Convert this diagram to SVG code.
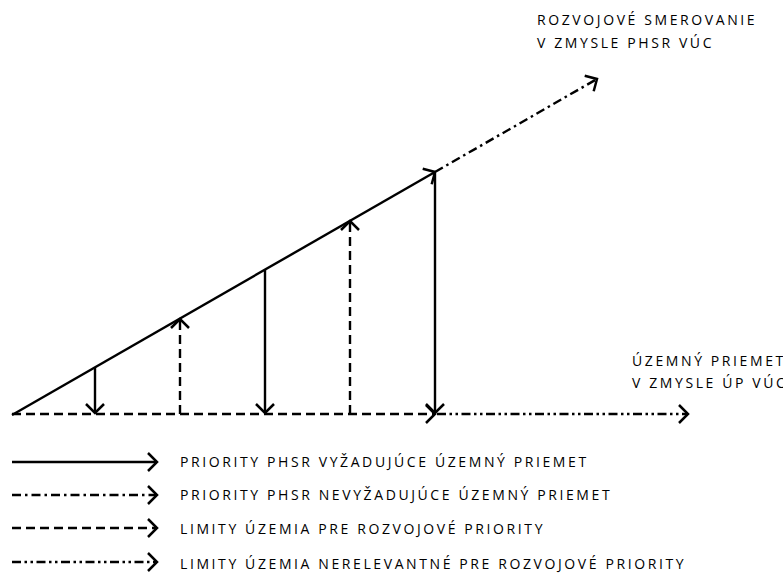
<svg xmlns="http://www.w3.org/2000/svg" width="783" height="573" viewBox="0 0 783 573">
  <style>
    .ln { fill: none; stroke: #000; stroke-width: 2.4; }
    .dash { stroke-dasharray: 9 5; }
    .dashdot { stroke-dasharray: 9 4 2.5 4; }
    .dashdotdot { stroke-dasharray: 9 3.5 2.5 3.5 2.5 3.5; }
    .arr { marker-end: url(#chev); }
    text { font-family: "Open Sans", "Noto Sans", "Liberation Sans", sans-serif; font-size: 14px; letter-spacing: 2.6px; fill: #000; }
  </style>
  <defs>
    <marker id="chev" markerUnits="userSpaceOnUse" markerWidth="24" markerHeight="24" viewBox="-12 -12 24 24" refX="0" refY="0" orient="auto" overflow="visible">
      <path d="M-9,-9 L0,0 L-9,9" fill="none" stroke="#000" stroke-width="2.5"/>
    </marker>
  </defs>

  <g id="connectors">
    <!-- development direction -->
    <path id="diag-solid" class="ln arr" d="M12,415 L435,172"/>
    <path id="diag-ext" class="ln dashdot arr" d="M435,172 L597,79"/>
    <!-- territorial baseline -->
    <path id="base-dash" class="ln dash arr" d="M12,414 L435,414"/>
    <path id="base-ext" class="ln dashdotdot arr" d="M437,414 L688,414"/>
    <!-- verticals -->
    <path class="ln arr" d="M95,367 L95,413"/>
    <path class="ln dash arr" d="M180,414 L180,319"/>
    <path class="ln arr" d="M265,270 L265,413"/>
    <path class="ln dash arr" d="M350,414 L350,221"/>
    <path class="ln arr" d="M435,173 L435,413"/>
  </g>

  <g id="label-direction">
    <text x="537" y="25">ROZVOJOVÉ SMEROVANIE</text>
    <text x="537" y="48">V ZMYSLE PHSR VÚC</text>
  </g>
  <g id="label-projection">
    <text x="632" y="366">ÚZEMNÝ PRIEMET</text>
    <text x="632" y="388">V ZMYSLE ÚP VÚC</text>
  </g>

  <g id="legend">
    <g id="legend-1">
      <path class="ln arr" d="M12,462 L157,462"/>
      <text x="180" y="467">PRIORITY PHSR VYŽADUJÚCE ÚZEMNÝ PRIEMET</text>
    </g>
    <g id="legend-2">
      <path class="ln dashdot arr" d="M12,495 L157,495"/>
      <text x="180" y="500">PRIORITY PHSR NEVYŽADUJÚCE ÚZEMNÝ PRIEMET</text>
    </g>
    <g id="legend-3">
      <path class="ln dash arr" d="M12,528 L157,528"/>
      <text x="180" y="534">LIMITY ÚZEMIA PRE ROZVOJOVÉ PRIORITY</text>
    </g>
    <g id="legend-4">
      <path class="ln dashdotdot arr" d="M12,562 L157,562"/>
      <text x="180" y="569">LIMITY ÚZEMIA NERELEVANTNÉ PRE ROZVOJOVÉ PRIORITY</text>
    </g>
  </g>
</svg>
